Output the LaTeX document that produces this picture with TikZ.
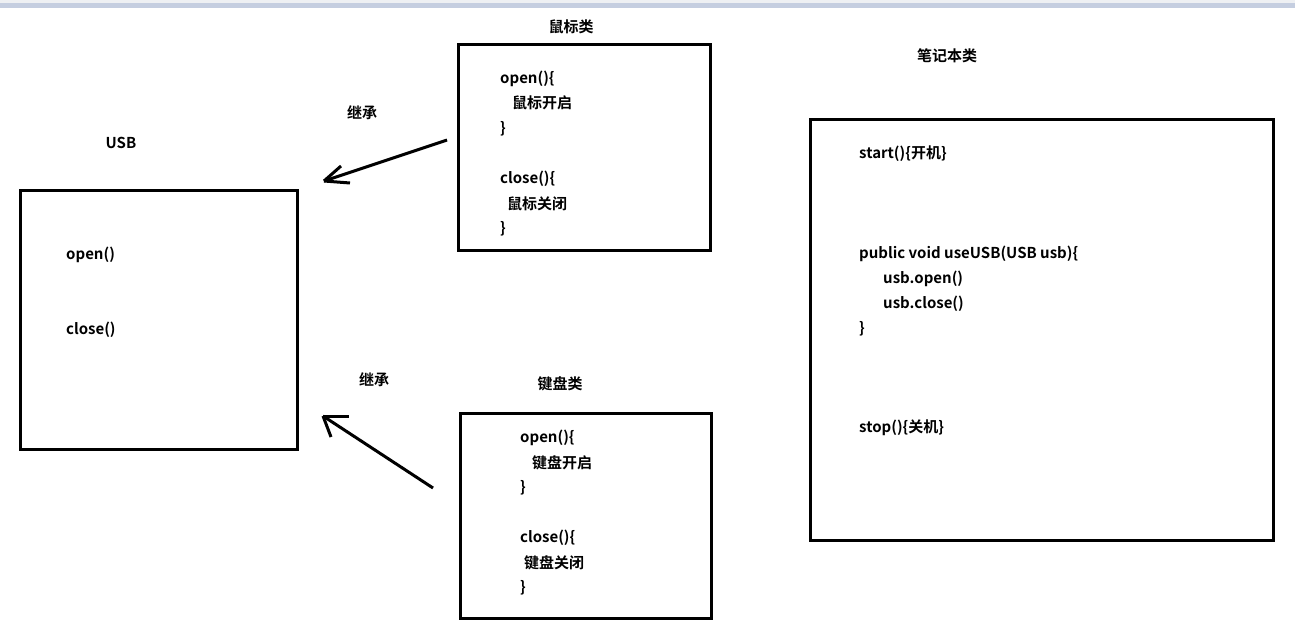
\documentclass[tikz,border=0pt]{standalone}
\usepackage{fontspec}
\setmainfont{Noto Sans CJK SC}[BoldFont={Noto Sans CJK SC Bold}]
\begin{document}
\begin{tikzpicture}[x=1pt,y=-1pt,
  box/.style={draw=black,line width=3pt},
  code/.style={anchor=west,inner sep=0pt,font=\fontsize{15}{17}\selectfont\bfseries},
  title/.style={anchor=center,inner sep=0pt,font=\fontsize{15}{17}\selectfont\bfseries},
  stroke/.style={line width=3pt,line cap=butt}]
\useasboundingbox (0,0) rectangle (1295,634);
% top bar
\fill[fill={rgb,255:red,238;green,240;blue,243}] (0,0) rectangle (1295,3);
\fill[fill={rgb,255:red,197;green,206;blue,224}] (0,3) rectangle (1295,8);

% boxes
\draw[box] (20,190) rectangle (297,449);
\draw[box] (458,45) rectangle (710,250);
\draw[box] (460,413) rectangle (711,618);
\draw[box] (810,119) rectangle (1273,540);

% titles
\node[title] (tusb) at (121,143) {USB};
\node[title] (tmouse) at (571,27) {鼠标类};
\node[title] (tkbd) at (560,384) {键盘类};
\node[title] (tlap) at (947,56) {笔记本类};
\node[title] (inh1) at (362,113) {继承};
\node[title] (inh2) at (374,380) {继承};

% USB
\node[code] (u1) at (66,255) {open()};
\node[code] (u2) at (66,330) {close()};

% mouse
\node[code] (m1) at (500,79) {open()\{};
\node[code] (m2) at (512,103) {鼠标开启};
\node[code] (m3) at (500,129) {\}};
\node[code] (m4) at (500,179) {close()\{};
\node[code] (m5) at (507,204) {鼠标关闭};
\node[code] (m6) at (500,229) {\}};

% keyboard
\node[code] (k1) at (520,438) {open()\{};
\node[code] (k2) at (532,463) {键盘开启};
\node[code] (k3) at (520,488) {\}};
\node[code] (k4) at (520,538) {close()\{};
\node[code] (k5) at (524,563) {键盘关闭};
\node[code] (k6) at (520,588) {\}};

% laptop
\node[code] (l1) at (859,154) {start()\{开机\}};
\node[code] (l2) at (859,254) {public void useUSB(USB usb)\{};
\node[code] (l3) at (883,279) {usb.open()};
\node[code] (l4) at (883,304) {usb.close()};
\node[code] (l5) at (859,329) {\}};
\node[code] (l6) at (859,428) {stop()\{关机\}};

% arrows
\coordinate (a1tail) at (447,140);
\coordinate (a1tip) at (324,181);
\draw[stroke] (a1tail) -- (a1tip);
\draw[stroke] (a1tip) -- ++(17,-15);
\draw[stroke] (a1tip) -- ++(26,2);

\coordinate (a2tail) at (433,488);
\coordinate (a2tip) at (323,416);
\draw[stroke] (a2tail) -- (a2tip);
\draw[stroke] (a2tip) -- ++(26,0);
\draw[stroke] (a2tip) -- ++(8,21);
\end{tikzpicture}
\end{document}
